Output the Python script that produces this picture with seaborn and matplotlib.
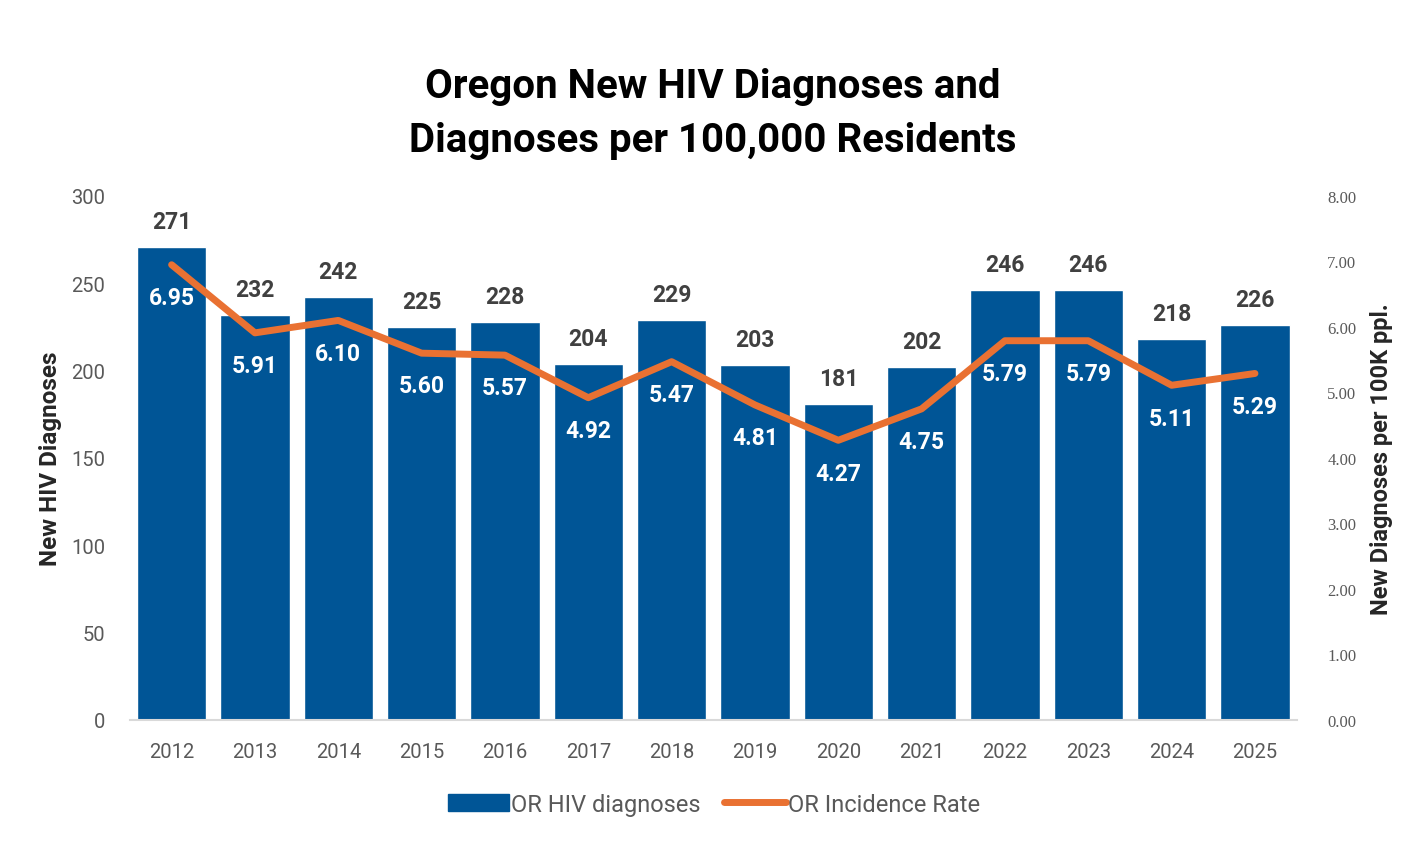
import numpy as np
import pandas as pd
import seaborn as sns
import matplotlib.pyplot as plt
from matplotlib.lines import Line2D
from matplotlib.patches import Patch

years = ["2012", "2013", "2014", "2015", "2016", "2017", "2018",
         "2019", "2020", "2021", "2022", "2023", "2024", "2025"]
diagnoses = [271, 232, 242, 225, 228, 204, 229, 203, 181, 202, 246, 246, 218, 226]
rates = [6.95, 5.91, 6.10, 5.60, 5.57, 4.92, 5.47, 4.81, 4.27, 4.75, 5.79, 5.79, 5.11, 5.29]

bar_color = "#005596"
line_color = "#E97132"

df = pd.DataFrame({"year": years, "diagnoses": diagnoses, "rate": rates})

sns.set_style("white")
plt.rcParams["font.family"] = ["Roboto", "DejaVu Sans"]

fig = plt.figure(figsize=(14.28, 8.62), dpi=100)
ax = fig.add_axes([0.091, 0.1636, 0.817, 0.6079])

sns.barplot(data=df, x="year", y="diagnoses", color=bar_color, width=0.83,
            saturation=1, ax=ax)
ax.set_xlim(-0.5, len(years) - 0.5)
ax.set_ylim(0, 300)
ax.set_yticks(range(0, 301, 50))
ax.tick_params(axis="both", labelsize=14.5, colors="#595959", length=0)
ax.tick_params(axis="x", pad=16)
ax.tick_params(axis="y", pad=18)
ax.set_xlabel("")
ax.set_ylabel("New HIV Diagnoses", fontsize=17.5, fontweight="bold", labelpad=6)
for s in ["top", "right", "left"]:
    ax.spines[s].set_visible(False)
ax.spines["bottom"].set_color("#d9d9d9")
ax.spines["bottom"].set_linewidth(1.5)

# labels above bars
for i, v in enumerate(diagnoses):
    ax.text(i, v + 8, str(v), ha="center", va="bottom", fontsize=16.5,
            fontweight="bold", color="#404040")

ax2 = ax.twinx()
sns.lineplot(data=df, x="year", y="rate", color=line_color, linewidth=5,
             ax=ax2, legend=False)
ax2.set_ylim(0, 8)
ax2.set_yticks(np.arange(0, 8.01, 1))
ax2.set_yticklabels([f"{t:.2f}" for t in np.arange(0, 8.01, 1)],
                    family="Liberation Serif")
ax2.tick_params(axis="y", labelsize=12, colors="#595959", length=0, pad=22)
ax2.set_ylabel("New Diagnoses per 100K ppl.", fontsize=17, fontweight="bold",
               labelpad=10)
for s in ["top", "right", "left", "bottom"]:
    ax2.spines[s].set_visible(False)

# white rate labels under the line
for i, r in enumerate(rates):
    ax2.text(i, r - 0.5, f"{r:.2f}", ha="center", va="center", fontsize=16.5,
             fontweight="bold", color="white")

fig.text(0.499, 1 - 114 / 862,
         "Oregon New HIV Diagnoses and\nDiagnoses per 100,000 Residents",
         ha="center", va="center", fontsize=29, fontweight="bold",
         color="black", linespacing=1.5)

handles = [Patch(color=bar_color, label="OR HIV diagnoses"),
           Line2D([0], [0], color=line_color, linewidth=5, label="OR Incidence Rate")]
fig.legend(handles=handles, loc="center", bbox_to_anchor=(0.5, 0.066), ncol=2,
           frameon=False, fontsize=17, labelcolor="#595959", handlelength=2.6,
           handletextpad=0.1, columnspacing=1.0)

fig.savefig("out.png", dpi=100)
